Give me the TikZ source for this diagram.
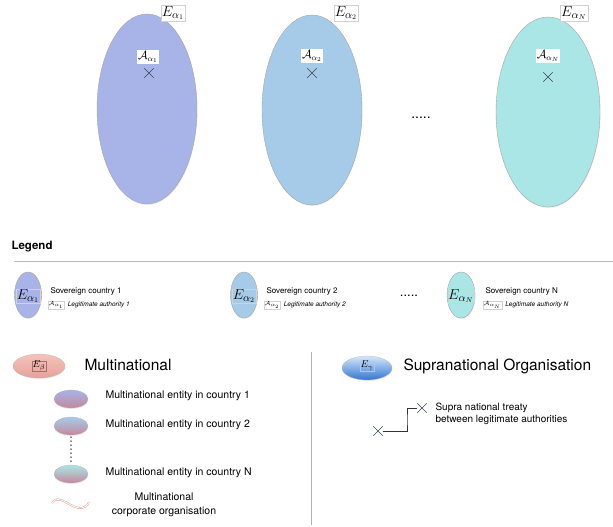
\documentclass[tikz,border=0pt]{standalone}
\usepackage[dvipsnames]{xcolor}
\usepackage{fontspec}
\setmainfont{TeX Gyre Heros}
\usepackage{tikz}
\usetikzlibrary{shapes.geometric,shapes.misc,shadows}

\definecolor{CountryA}{HTML}{A8B4E8}
\definecolor{CountryB}{HTML}{A6CBE8}
\definecolor{CountryN}{HTML}{AAE6E6}
\definecolor{MultiPink}{HTML}{E8A098}
\definecolor{MultiLight}{HTML}{F4C4BC}
\definecolor{EntityRose}{HTML}{C4899E}
\definecolor{SupraLight}{HTML}{D4E8FB}
\definecolor{SupraDark}{HTML}{3474D2}
\definecolor{CrossGray}{HTML}{3C4458}

\tikzset{
  country/.style={ellipse, draw=gray!70, thin, inner sep=0pt,
    drop shadow={opacity=0.15, shadow xshift=0.5pt, shadow yshift=-1pt}},
  tag/.style={fill=white, draw=gray!35, very thin, inner sep=1pt},
  cross/.style={cross out, draw=CrossGray, thin, minimum size=9pt, inner sep=0pt},
  entity/.style={ellipse, draw=gray!60, very thin, inner sep=0pt,
    minimum width=34pt, minimum height=18pt, bottom color=EntityRose,
    drop shadow={opacity=0.15, shadow xshift=0.5pt, shadow yshift=-1pt}},
  legtext/.style={anchor=west, font=\fontsize{8}{9}\selectfont},
  legsmall/.style={anchor=west, font=\fontsize{6.5}{7}\selectfont\itshape},
  body/.style={anchor=west, font=\fontsize{10.5}{12.5}\selectfont},
  head/.style={anchor=west, font=\fontsize{15.5}{18}\selectfont}
}

\begin{document}
\begin{tikzpicture}[x=1pt, y=-1pt]
  \useasboundingbox (0,0) rectangle (613,527);

  \node[country, fill=CountryA, minimum width=100pt, minimum height=190pt] (e1) at (147,109) {};
  \node[country, fill=CountryB, minimum width=100pt, minimum height=190pt] (e2) at (312,110) {};
  \node[country, fill=CountryN, minimum width=104pt, minimum height=190pt] (eN) at (548,112) {};

  \node[tag, font=\fontsize{15}{15}\selectfont] (e1l) at (173,13) {$E_{\alpha_1}$};
  \node[tag, font=\fontsize{15}{15}\selectfont] (e2l) at (346,13) {$E_{\alpha_2}$};
  \node[tag, font=\fontsize{15}{15}\selectfont] (eNl) at (574,13) {$E_{\alpha_N}$};

  \node[tag, draw=none, font=\fontsize{12}{12}\selectfont] (a1) at (148,57) {$\mathcal{A}_{\alpha_1}$};
  \node[tag, draw=none, font=\fontsize{12}{12}\selectfont] (a2) at (312,56) {$\mathcal{A}_{\alpha_2}$};
  \node[tag, draw=none, font=\fontsize{12}{12}\selectfont] (aN) at (548,56) {$\mathcal{A}_{\alpha_N}$};

  \node[cross] (x1) at (149,73) {};
  \node[cross] (x2) at (312,73) {};
  \node[cross] (xN) at (548,77) {};

  \node[font=\fontsize{14}{14}\selectfont] (dots) at (421,118) {.....};

  \node[anchor=west, font=\fontsize{11.5}{12}\selectfont\bfseries] (legend) at (8,247) {Legend};
  \coordinate (rulel) at (14,261);
  \coordinate (ruler) at (613,261);
  \draw[gray!55, thin] (rulel) -- (ruler);

  \node[country, fill=CountryA, minimum width=27pt, minimum height=46pt] (l1) at (28,295) {};
  \node[country, fill=CountryB, minimum width=27pt, minimum height=46pt] (l2) at (244,295) {};
  \node[country, fill=CountryN, minimum width=28pt, minimum height=46pt] (lN) at (461,295) {};
  \node[tag, fill=none, font=\fontsize{15}{15}\selectfont, inner sep=0.5pt] (l1e) at (28,296) {$E_{\alpha_1}$};
  \node[tag, fill=none, font=\fontsize{15}{15}\selectfont, inner sep=0.5pt] (l2e) at (244,296) {$E_{\alpha_2}$};
  \node[tag, fill=none, font=\fontsize{15}{15}\selectfont, inner sep=0.5pt] (lNe) at (461,296) {$E_{\alpha_N}$};

  \node[legtext] (s1) at (47,291) {Sovereign country 1};
  \node[tag, anchor=west, font=\fontsize{6}{6}\selectfont, inner sep=0.6pt] (s1a) at (48,305) {$\mathcal{A}_{\alpha_1}$};
  \node[legsmall] (s1t) at (s1a.east) {Legitimate authority 1};

  \node[legtext] (s2) at (263,291) {Sovereign country 2};
  \node[tag, anchor=west, font=\fontsize{6}{6}\selectfont, inner sep=0.6pt] (s2a) at (264,305) {$\mathcal{A}_{\alpha_2}$};
  \node[legsmall] (s2t) at (s2a.east) {Legitimate authority 2};

  \node[font=\fontsize{13}{13}\selectfont] (ldots) at (409,296) {.....};

  \node[legtext] (sN) at (482,291) {Sovereign country N};
  \node[tag, anchor=west, font=\fontsize{6}{6}\selectfont, inner sep=0.6pt] (sNa) at (483,305) {$\mathcal{A}_{\alpha_N}$};
  \node[legsmall] (sNt) at (sNa.east) {Legitimate authority N};

  \node[ellipse, draw=gray!60, very thin, inner sep=0pt, minimum width=52pt, minimum height=24pt,
        top color=MultiLight, bottom color=MultiPink,
        drop shadow={opacity=0.15, shadow xshift=0.5pt, shadow yshift=-1pt}] (mb) at (39,366) {};
  \node[tag, fill=none, draw=MultiPink!70!black, font=\fontsize{10}{10}\selectfont, inner sep=0.5pt] (mbl) at (mb) {$E_{\beta}$};
  \node[head] (mt) at (81,365) {Multinational};

  \node[entity, top color=CountryA] (m1) at (71,399) {};
  \node[entity, top color=CountryB] (m2) at (71,426) {};
  \node[entity, top color=CountryN] (mN) at (71,474) {};
  \draw[line width=1.5pt, line cap=round, dash pattern=on 0pt off 4pt, shorten <=2pt, shorten >=3pt] (m2) -- (mN);
  \node[body] (m1t) at (102,396) {Multinational entity in country 1};
  \node[body] (m2t) at (102,425) {Multinational entity in country 2};
  \node[body] (mNt) at (102,473) {Multinational entity in country N};

  \draw[MultiPink, double=white, double distance=0.8pt, line width=0.5pt]
    (52,503) .. controls (56,496) and (64,501) .. (71,505)
    .. controls (78,509) and (86,510) .. (89,502);
  \node[align=center, font=\fontsize{10.5}{14}\selectfont] (mc) at (164,505) {Multinational\\corporate organisation};

  \coordinate (divt) at (311,352);
  \coordinate (divb) at (311,525);
  \draw[gray!60, thin] (divt) -- (divb);

  \node[ellipse, draw=gray!60, very thin, inner sep=0pt, minimum width=50pt, minimum height=24pt,
        top color=SupraLight, bottom color=SupraDark,
        drop shadow={opacity=0.15, shadow xshift=0.5pt, shadow yshift=-1pt}] (sg) at (367,368) {};
  \node[tag, fill=none, draw=SupraDark!40, font=\fontsize{10}{10}\selectfont, inner sep=0.5pt] (sgl) at (367,366) {$E_{\gamma}$};
  \node[head] (st) at (400,366) {Supranational Organisation};

  \node[cross] (t1) at (378,431) {};
  \node[cross] (t2) at (422,408) {};
  \coordinate (tb) at (407,420);
  \draw[black!80, line width=1pt] (t1) -| (tb) |- (t2);
  \node[body, align=left, font=\fontsize{10}{12}\selectfont] (tt) at (432,414) {Supra national treaty\\between legitimate authorities};
\end{tikzpicture}
\end{document}
